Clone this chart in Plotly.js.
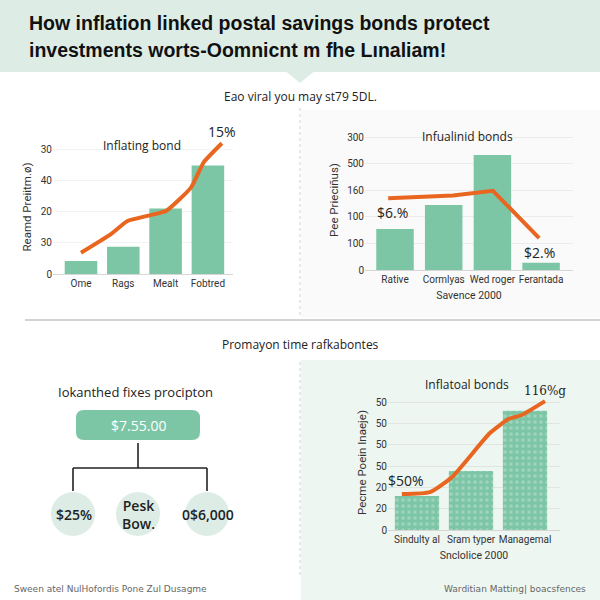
<!DOCTYPE html>
<html><head><meta charset="utf-8">
<script src="https://cdn.plot.ly/plotly-3.0.1.min.js"></script>
<style>html,body{margin:0;padding:0;background:#fff}#chart{width:600px;height:600px}</style>
</head><body><div id="chart"></div>
<script>
// ---- Data ----
const titleLines = ["How inflation linked postal savings bonds protect", "investments worts-Oomnicnt m fhe Lınaliam!"];
const subtitleTop = "Eao viral you may st79 5DL.";
const subtitleBottom = "Promayon time rafkabontes";

const c1Title = "Inflating bond";
const c1YTitle = "Reamd Preiitm.ø)";
const c1Categories = ["Ome", "Rags", "Mealt", "Fobtred"];
const c1Bars = [4.2, 8.7, 21, 34.8];
const c1LineX = [0, 0.69, 1.1, 2.02, 2.6, 2.9, 3.33];
const c1LineY = [6.8, 12.6, 17, 20.3, 27.7, 35.8, 41.9];
const c1TickVals = [0, 10, 20, 30, 40];
const c1TickText = ["0", "30", "20", "40", "30"];
const c1Label = "15%";

const c2Title = "Infualinid bonds";
const c2YTitle = "Pee Prieciñus)";
const c2XTitle = "Savence 2000";
const c2Categories = ["Rative", "Cormlyas", "Wed roger", "Ferantada"];
const c2Bars = [1.54, 2.44, 4.32, 0.27];
const c2LineX = [-0.14, 1.19, 2.01, 2.96];
const c2LineY = [2.7, 2.8, 2.98, 1.2];
const c2TickVals = [0, 1, 2, 3, 4, 5];
const c2TickText = ["0", "100", "100", "160", "500", "300"];
const c2Labels = ["$6.%", "$2.%"];

const c3Title = "Inflatoal bonds";
const c3YTitle = "Pecme Poein Inaeje)";
const c3XTitle = "Snclolice 2000";
const c3Categories = ["Sindulty al", "Sram typer", "Managemal"];
const c3Bars = [1.6, 2.77, 5.6];
const c3LineX = [-0.28, 0.24, 0.65, 1.35, 1.69, 1.94, 2.37];
const c3LineY = [1.69, 1.78, 2.49, 4.55, 5.2, 5.4, 6.05];
const c3TickVals = [0, 1, 2, 3, 4, 5, 6];
const c3TickText = ["0", "20", "20", "50", "50", "50", "50"];
const c3Labels = ["$50%", "116%g"];

const treeTitle = "Iokanthed fixes procipton";
const treeRoot = "$7.55.00";
const treeLeaves = ["$25%", "Pesk<br>Bow.", "0$6,000"];

const footerLeft = "Sween atel NulHofordis Pone Zul Dusagme";
const footerRight = "Warditian Matting| boacsfences";

// ---- Styling / layout helpers ----
const GREEN = "#7cc6a6", ORANGE = "#e8661f", MINT = "#ddede6", LIGHTMINT = "#eef6f1";
const FONT = "Open Sans, Noto Sans, sans-serif";
const px = v => v / 600;
const py = v => 1 - v / 600;
function xRange(zeroPx, step, l, r) { return [(l - zeroPx) / step, (r - zeroPx) / step]; }
function yRange(zeroPx, step, top) { return [0, (zeroPx - top) / step]; }
function roundRect(x0, y0, x1, y1, r) {
  return `M ${px(x0 + r)} ${py(y0)} L ${px(x1 - r)} ${py(y0)} Q ${px(x1)} ${py(y0)} ${px(x1)} ${py(y0 + r)} ` +
    `L ${px(x1)} ${py(y1 - r)} Q ${px(x1)} ${py(y1)} ${px(x1 - r)} ${py(y1)} L ${px(x0 + r)} ${py(y1)} ` +
    `Q ${px(x0)} ${py(y1)} ${px(x0)} ${py(y1 - r)} L ${px(x0)} ${py(y0 + r)} Q ${px(x0)} ${py(y0)} ${px(x0 + r)} ${py(y0)} Z`;
}

const traces = [
  {type: "bar", x: c1Categories.map((_, i) => i), y: c1Bars, width: 0.77, marker: {color: GREEN}, xaxis: "x", yaxis: "y", hoverinfo: "skip"},
  {type: "scatter", mode: "lines", x: c1LineX, y: c1LineY, line: {color: ORANGE, width: 4, shape: "spline", smoothing: 0.4}, xaxis: "x", yaxis: "y", hoverinfo: "skip"},
  {type: "bar", x: c2Categories.map((_, i) => i), y: c2Bars, width: 0.77, marker: {color: GREEN}, xaxis: "x2", yaxis: "y2", hoverinfo: "skip"},
  {type: "scatter", mode: "lines", x: c2LineX, y: c2LineY, line: {color: ORANGE, width: 4}, xaxis: "x2", yaxis: "y2", hoverinfo: "skip"},
  {type: "bar", x: c3Categories.map((_, i) => i), y: c3Bars, width: 0.82, marker: {color: GREEN, pattern: {shape: ".", fgcolor: "#9fd4bc", bgcolor: GREEN, size: 6, solidity: 0.3}}, xaxis: "x3", yaxis: "y3", hoverinfo: "skip"},
  {type: "scatter", mode: "lines", x: c3LineX, y: c3LineY, line: {color: ORANGE, width: 4, shape: "spline", smoothing: 0.5}, xaxis: "x3", yaxis: "y3", hoverinfo: "skip"}
];

const tickFont = {family: "Roboto, Liberation Sans, sans-serif", size: 10, color: "#333"};
const axTitleFont = {family: "Roboto, Liberation Sans, sans-serif", size: 11.5, color: "#333"};
function xAxis(domain, range, cats, anchor, title) {
  const a = {domain, range, tickvals: cats.map((_, i) => i), ticktext: cats, anchor, showgrid: false, zeroline: false,
    showline: true, linecolor: "#d6d6d6", linewidth: 1, ticks: "", tickangle: 0, tickfont: tickFont, fixedrange: true};
  if (title) a.title = {text: title, font: {family: axTitleFont.family, size: 10.5, color: "#333"}, standoff: 7};
  return a;
}
function yAxis(domain, range, vals, text, anchor, title, grid) {
  return {domain, range, tickvals: vals, ticktext: text, anchor, showgrid: true, gridcolor: grid, gridwidth: 1,
    zeroline: false, showline: false, ticks: "", tickfont: tickFont, fixedrange: true,
    title: {text: title, font: axTitleFont, standoff: 6}};
}

const shapes = [
  {type: "rect", xref: "paper", yref: "paper", x0: 0, x1: 1, y0: py(72), y1: 1, fillcolor: MINT, line: {width: 0}, layer: "below"},
  {type: "path", xref: "paper", yref: "paper", path: `M ${px(286)} ${py(71.5)} L ${px(300)} ${py(83)} L ${px(314)} ${py(71.5)} Z`, fillcolor: MINT, line: {width: 0}, layer: "below"},
  {type: "rect", xref: "paper", yref: "paper", x0: px(301), x1: 1, y0: py(318), y1: py(110), fillcolor: "#f9faf9", line: {width: 0}, layer: "below"},
  {type: "rect", xref: "paper", yref: "paper", x0: px(301), x1: 1, y0: 0, y1: py(360), fillcolor: LIGHTMINT, line: {width: 0}, layer: "below"},
  {type: "line", xref: "paper", yref: "paper", x0: px(25), x1: 1, y0: py(320), y1: py(320), line: {color: "#c4c4c4", width: 1.5}},
  {type: "line", xref: "paper", yref: "paper", x0: px(300), x1: px(300), y0: py(108), y1: py(318), line: {color: "#d0d0d0", width: 1, dash: "dot"}},
  {type: "line", xref: "paper", yref: "paper", x0: px(300), x1: px(300), y0: py(362), y1: py(578), line: {color: "#d0d0d0", width: 1, dash: "dot"}},
  // tree
  {type: "path", xref: "paper", yref: "paper", path: roundRect(76, 410, 200, 440, 8), fillcolor: GREEN, line: {width: 0}},
  {type: "line", xref: "paper", yref: "paper", x0: px(138), x1: px(138), y0: py(443), y1: py(468), line: {color: "#222", width: 1.6}},
  {type: "line", xref: "paper", yref: "paper", x0: px(73), x1: px(207), y0: py(468), y1: py(468), line: {color: "#222", width: 1.6}},
  {type: "line", xref: "paper", yref: "paper", x0: px(73), x1: px(73), y0: py(468), y1: py(491), line: {color: "#222", width: 1.6}},
  {type: "line", xref: "paper", yref: "paper", x0: px(207), x1: px(207), y0: py(468), y1: py(491), line: {color: "#222", width: 1.6}},
  {type: "circle", xref: "paper", yref: "paper", x0: px(51), x1: px(95), y0: py(536), y1: py(492), fillcolor: MINT, line: {width: 0}},
  {type: "circle", xref: "paper", yref: "paper", x0: px(116), x1: px(160), y0: py(536), y1: py(492), fillcolor: MINT, line: {width: 0}},
  {type: "circle", xref: "paper", yref: "paper", x0: px(185), x1: px(229), y0: py(536), y1: py(492), fillcolor: MINT, line: {width: 0}}
];

function ann(text, x, y, size, opts) {
  return Object.assign({text, xref: "paper", yref: "paper", x: px(x), y: py(y), showarrow: false,
    font: {family: FONT, size, color: "#222"}, xanchor: "center", yanchor: "middle"}, opts || {});
}
const titleFont = {family: "Liberation Sans, sans-serif", size: 19.5, color: "#111", weight: 700};

const annotations = [
  ann(titleLines[0], 27, 23, 19.5, {xanchor: "left", font: titleFont}),
  ann(titleLines[1], 27, 50, 19.5, {xanchor: "left", font: titleFont}),
  ann(subtitleTop, 300, 97, 12),
  ann(subtitleBottom, 300, 344, 12),
  ann(c1Title, 142, 145, 12),
  ann(c2Title, 467, 137, 12),
  ann(c3Title, 467, 384, 12),
  {text: c1Label, xref: "x", yref: "y", x: c1LineX[c1LineX.length - 1], y: c1LineY[c1LineY.length - 1], yshift: 12, showarrow: false, font: {family: FONT, size: 14, color: "#222"}},
  {text: c2Labels[0], xref: "x2", yref: "y2", x: c2LineX[0], y: c2LineY[0], xshift: 4, yshift: -14, showarrow: false, font: {family: FONT, size: 14, color: "#222"}},
  {text: c2Labels[1], xref: "x2", yref: "y2", x: c2LineX[c2LineX.length - 1], y: c2LineY[c2LineY.length - 1], yshift: -14, showarrow: false, font: {family: FONT, size: 14, color: "#222"}},
  {text: c3Labels[0], xref: "x3", yref: "y3", x: c3LineX[0], y: c3LineY[0], xshift: 4, yshift: 14, showarrow: false, font: {family: FONT, size: 14, color: "#222"}},
  {text: c3Labels[1], xref: "x3", yref: "y3", x: c3LineX[c3LineX.length - 1], y: c3LineY[c3LineY.length - 1], yshift: 10, showarrow: false, font: {family: "DejaVu Serif, serif", size: 12, color: "#222"}},
  ann(treeTitle, 135, 392, 13),
  ann(treeRoot, 138, 425, 14, {font: {family: FONT, size: 14, color: "#fff"}}),
  ann(treeLeaves[0], 74, 514, 14, {font: {family: FONT, size: 14, color: "#222", weight: 600}}),
  ann(treeLeaves[1], 138, 514, 14, {font: {family: FONT, size: 14, color: "#222", weight: 600}}),
  ann(treeLeaves[2], 208, 514, 14, {font: {family: FONT, size: 14, color: "#222", weight: 600}}),
  ann(footerLeft, 12, 589, 9, {xanchor: "left", font: {family: "DejaVu Sans, sans-serif", size: 9, color: "#666"}}),
  ann(footerRight, 588, 589, 9, {xanchor: "right", font: {family: "DejaVu Sans, sans-serif", size: 9, color: "#666"}})
];

const layout = {
  width: 600, height: 600, margin: {l: 0, r: 0, t: 0, b: 0},
  paper_bgcolor: "#fff", plot_bgcolor: "rgba(0,0,0,0)", showlegend: false,
  font: {family: FONT},
  xaxis: xAxis([px(53), px(233)], xRange(81, 42.3, 53, 233), c1Categories, "y"),
  yaxis: yAxis([py(274), py(140)], yRange(274, 3.12, 140), c1TickVals, c1TickText, "x", c1YTitle, "#f2f2f2"),
  xaxis2: xAxis([px(365), px(573)], xRange(395, 48.7, 365, 573), c2Categories, "y2", c2XTitle),
  yaxis2: yAxis([py(270), py(130)], yRange(270, 26.6, 130), c2TickVals, c2TickText, "x2", c2YTitle, "#ebebeb"),
  xaxis3: xAxis([px(388), px(560)], xRange(417, 54, 388, 560), c3Categories, "y3", c3XTitle),
  yaxis3: yAxis([py(530), py(395)], yRange(530, 21.3, 395), c3TickVals, c3TickText, "x3", c3YTitle, "#dfe6e2"),
  shapes, annotations
};

Plotly.newPlot("chart", traces, layout, {staticPlot: true, displayModeBar: false});
</script></body></html>
